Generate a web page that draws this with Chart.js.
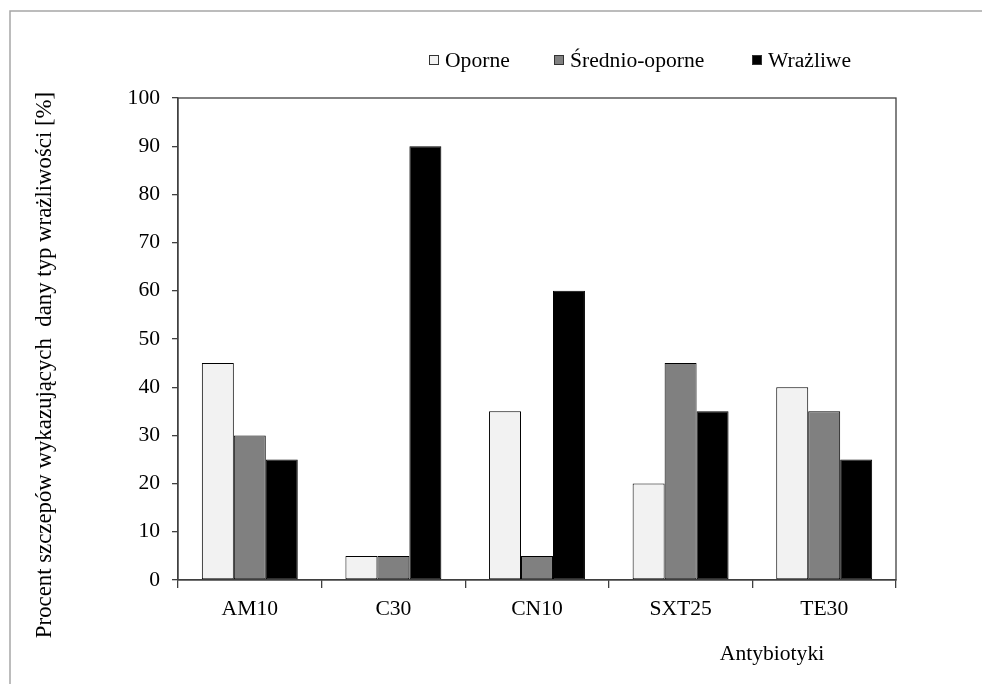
<!DOCTYPE html>
<html><head><meta charset="utf-8">
<script src="https://cdn.jsdelivr.net/npm/chart.js@4"></script>
<style>html,body{margin:0;padding:0;background:#fff}#wrap{width:982px;height:684px;position:relative}</style>
</head><body><div id="wrap"><canvas id="c" width="982" height="684"></canvas></div>
<script>
const categories = ['AM10', 'C30', 'CN10', 'SXT25', 'TE30'];
const seriesNames = ['Oporne', 'Średnio-oporne', 'Wrażliwe'];
const oporne = [45, 5, 35, 20, 40];
const srednioOporne = [30, 5, 5, 45, 35];
const wrazliwe = [25, 90, 60, 35, 25];
const yTickValues = [0, 10, 20, 30, 40, 50, 60, 70, 80, 90, 100];
const yTitle = 'Procent szczepów wykazujących  dany typ wrażliwości [%]';
const xTitle = 'Antybiotyki';

const fills = ['#f2f2f2', '#808080', '#000000'];
const FONT = '"Liberation Serif", "Times New Roman", serif';
const TXT = '#000';
const AX = '#404040';

const decor = {
  id: 'decor',
  beforeDraw(chart) {
    const ctx = chart.ctx;
    ctx.save();
    ctx.fillStyle = '#fff';
    ctx.fillRect(0, 0, chart.width, chart.height);
    ctx.strokeStyle = '#a6a6a6';
    ctx.lineWidth = 1.5;
    ctx.strokeRect(10, 11, 1000, 700);
    ctx.restore();
  },
  afterDraw(chart) {
    const ctx = chart.ctx;
    const a = chart.chartArea;
    ctx.save();
    ctx.strokeStyle = AX;
    ctx.lineWidth = 1.3;
    ctx.strokeRect(a.left, a.top, a.right - a.left, a.bottom - a.top);
    // legend
    ctx.font = '21.6px ' + FONT;
    ctx.textBaseline = 'alphabetic';
    ctx.textAlign = 'left';
    const lx = [429, 554, 752];
    seriesNames.forEach((n, i) => {
      ctx.fillStyle = fills[i];
      ctx.fillRect(lx[i], 55, 10, 10);
      ctx.strokeStyle = '#333';
      ctx.lineWidth = 1;
      ctx.strokeRect(lx[i] + 0.5, 55.5, 9, 9);
      ctx.fillStyle = TXT;
      ctx.fillText(n, lx[i] + 16, 67);
    });
    // x title
    ctx.textAlign = 'center';
    ctx.fillText(xTitle, 772, 660);
    // y title
    ctx.font = '22.8px ' + FONT;
    ctx.translate(51, 365);
    ctx.rotate(-Math.PI / 2);
    ctx.fillText(yTitle, 0, 0);
    ctx.restore();
  }
};

new Chart(document.getElementById('c'), {
  type: 'bar',
  data: {
    labels: categories,
    datasets: [
      { label: seriesNames[0], data: oporne, backgroundColor: fills[0] },
      { label: seriesNames[1], data: srednioOporne, backgroundColor: fills[1] },
      { label: seriesNames[2], data: wrazliwe, backgroundColor: fills[2] }
    ].map(d => Object.assign(d, { borderColor: '#000', borderWidth: 1, borderSkipped: false }))
  },
  options: {
    responsive: false,
    animation: false,
    devicePixelRatio: 1,
    layout: { padding: { top: 98, right: 86, bottom: 0, left: 0 } },
    datasets: { bar: { categoryPercentage: 0.668, barPercentage: 1 } },
    plugins: { legend: { display: false }, tooltip: { enabled: false }, title: { display: false } },
    scales: {
      x: {
        afterFit: s => { s.height = 104; },
        grid: { offset: true, drawOnChartArea: false, drawTicks: true, tickLength: 8, color: AX, lineWidth: 1.3 },
        border: { display: true, color: AX, width: 1.3 },
        ticks: { color: TXT, font: { family: FONT, size: 21.6 }, padding: 8 }
      },
      y: {
        min: 0, max: 100,
        afterFit: s => { s.width = 178; },
        afterBuildTicks: s => { s.ticks = yTickValues.map(v => ({ value: v })); },
        grid: { drawOnChartArea: false, drawTicks: true, tickLength: 6, color: AX, lineWidth: 1.3 },
        border: { display: true, color: AX, width: 1.3 },
        ticks: { color: TXT, font: { family: FONT, size: 21.6 }, padding: 12, stepSize: 10 }
      }
    }
  },
  plugins: [decor]
});
</script></body></html>
